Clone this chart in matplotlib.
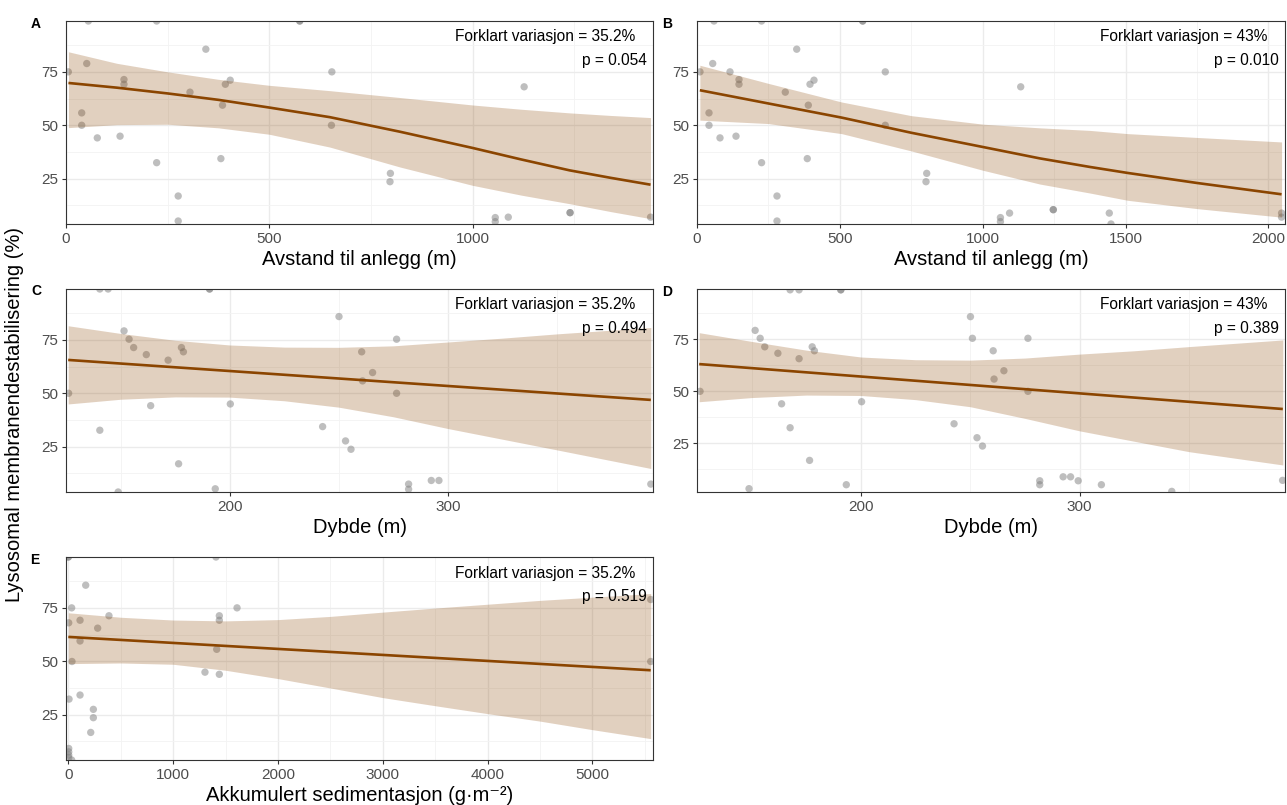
import matplotlib.pyplot as plt

plt.rcParams['font.family'] = ['Liberation Sans', 'DejaVu Sans']

# --- A: distance to facility (subset) ---
a_dist = [55, 223, 575, 575, 5.7, 51, 344, 142.6, 142.6, 305, 392, 404, 385, 654,
          38.6, 38.6, 653, 77, 133, 223, 381, 276, 276, 798, 797, 1127, 1056, 1056,
          1088, 1240, 1240, 1438]
a_lms = [98.8, 98.8, 98.8, 98.8, 75, 78.9, 85.6, 71.4, 69.2, 65.5, 69.2, 71.1, 59.4, 75,
         55.8, 50, 50, 44.1, 44.9, 32.5, 34.4, 16.9, 5.2, 27.5, 23.6, 68, 6.8, 4.9,
         7, 9.1, 9.1, 7]
a_fit_x = [6, 125, 250, 375, 500, 649, 821, 1000, 1120, 1239, 1340, 1438]
a_fit = [69.8, 67.6, 64.9, 61.9, 58.3, 53.8, 47.0, 39.4, 34.0, 28.9, 25.4, 22.2]
a_hi = [84.4, 79.0, 75.0, 71.5, 68.7, 66.2, 63.0, 59.5, 57.5, 55.8, 54.6, 53.6]
a_lo = [48.9, 50.3, 50.5, 48.8, 45.8, 39.8, 30.5, 21.9, 17.3, 13.3, 9.6, 6.3]

# --- B: distance to facility (all stations) ---
b_dist = [59.5, 226, 580, 580, 10.5, 55, 115.5, 147, 147, 349, 309, 395.5, 409.5, 389.6,
          42, 42, 659, 659, 80.5, 136.5, 226, 386, 280, 280, 804, 801.5, 1133, 1062,
          1062, 1094, 1247, 1247, 1443, 1449, 2046, 2046]
b_lms = [98.8, 98.8, 98.8, 98.8, 75, 78.9, 75, 71.4, 69.2, 85.6, 65.5, 69.2, 71.1, 59.4,
         55.8, 50, 75, 50, 44.1, 44.9, 32.5, 34.4, 16.9, 5.2, 27.5, 23.6, 68, 6.8,
         4.9, 8.9, 10.5, 10.5, 8.9, 3.8, 8.9, 7]
b_fit_x = [10, 250, 506, 750, 1002, 1200, 1375, 1507, 1750, 2046]
b_fit = [66.4, 60.2, 53.6, 46.5, 39.8, 34.5, 30.5, 27.7, 23.0, 17.7]
b_hi = [78.1, 69.6, 60.9, 54.5, 50.5, 48.8, 47.6, 46.1, 44.3, 42.2]
b_lo = [52.4, 50.8, 46.1, 38.0, 28.9, 22.5, 18.3, 14.9, 11.0, 7.0]

# --- C: depth ---
c_depth = [140.5, 144.3, 190.8, 190.8, 126.2, 151.6, 153.9, 156, 161.8, 171.8, 177.9,
           178.8, 163.8, 200.3, 140.5, 176.6, 193.4, 148.9, 250.1, 242.6, 253.1, 255.6,
           260.5, 265.5, 260.9, 276.5, 276.5, 282, 282, 292.4, 295.9, 393]
c_lms = [98.8, 98.8, 98.8, 98.8, 50, 79.2, 75.3, 71.4, 68.1, 65.5, 71.4,
         69.4, 44.2, 45, 32.7, 17, 5.3, 3.8, 85.9, 34.4, 27.7, 23.8,
         69.4, 59.7, 55.8, 75.3, 50, 7.5, 5.1, 9.2, 9.2, 7.5]
c_fit_x = [126, 393]
c_fit = [65.6, 46.9]
c_band_x = [126, 150, 175, 200, 225, 250, 275, 300, 325, 350, 393]
c_hi = [81.6, 78.0, 74.8, 72.6, 71.6, 71.5, 72.2, 74.0, 75.8, 77.8, 80.8]
c_lo = [45.0, 47.2, 48.3, 48.2, 46.5, 43.5, 39.0, 33.5, 28.5, 23.5, 14.8]

# --- D: depth (all stations) ---
d_depth = [167.6, 171.7, 190.8, 190.8, 126.4, 151.6, 153.9, 156, 162, 171.7, 177.7,
           178.7, 163.7, 200.3, 167.6, 176.5, 193.3, 148.8, 250.1, 251, 242.6, 253.1,
           255.6, 260.5, 265.4, 260.9, 276.4, 276.4, 281.8, 281.8, 292.5, 295.9,
           299.4, 310, 342.2, 392.9]
d_lms = [98.8, 98.8, 98.8, 98.8, 50, 79.3, 75.5, 71.4, 68.3, 65.7, 71.4,
         69.5, 44, 45, 32.5, 16.8, 5.1, 3.2, 85.9, 75.5, 34.4, 27.7,
         23.7, 69.5, 59.9, 55.9, 75.5, 50, 7, 5.1, 8.9, 8.9,
         7, 5.1, 1.9, 7.2]
d_fit_x = [126, 393]
d_fit = [63.1, 41.5]
d_band_x = [126, 150, 175, 200, 225, 250, 275, 300, 325, 350, 393]
d_hi = [78.2, 74.0, 69.8, 66.5, 65.2, 65.0, 66.0, 67.9, 69.5, 71.5, 74.7]
d_lo = [45.0, 47.0, 48.2, 48.0, 46.0, 42.6, 37.0, 31.0, 26.0, 21.0, 14.6]

# --- E: accumulated sedimentation ---
e_sed = [0, 0, 1409, 166, 32, 3.8, 112, 388, 280, 112, 35, 1441, 1441, 1610, 1416,
         1304, 1441, 7, 112, 239, 239, 214, 4, 4, 4, 4, 32, 5557, 5557]
e_lms = [98.8, 98.8, 98.8, 85.6, 75, 68, 69.2, 71.3, 65.5, 59.5, 49.9, 71.3, 69.2, 75, 55.6,
         44.9, 43.9, 32.3, 34.2, 27.5, 23.6, 16.7, 9.2, 7.6, 6.1, 4.9, 3.8, 78.9, 49.9]
e_fit_x = [0, 5557]
e_fit = [61.4, 45.8]
e_band_x = [0, 500, 1000, 1500, 2000, 2500, 3000, 3500, 4000, 4500, 5000, 5557]
e_hi = [72.7, 70.6, 69.3, 68.9, 69.5, 71.0, 73.0, 74.9, 76.7, 78.5, 80.0, 81.7]
e_lo = [48.9, 49.2, 48.6, 45.8, 41.9, 37.5, 33.0, 29.2, 25.5, 22.0, 18.0, 13.8]

fit_col = '#8B4500'
W, H = 1287, 805

fig = plt.figure(figsize=(W / 100, H / 100), dpi=100)


def px_rect(left, top, right, bottom):
    return [left / W, 1 - bottom / H, (right - left) / W, (bottom - top) / H]


def panel(rect, x, y, fx, fy, bx, lo, hi, xlim, ylim, xticks, xminor,
          xlabel, r2, p, tag, tag_xy):
    ax = fig.add_axes(rect)
    ax.scatter(x, y, s=28, color='#7F7F7F', alpha=0.5, edgecolors='none', zorder=2)
    ax.fill_between(bx, lo, hi, color=fit_col, alpha=0.25, lw=0, zorder=3)
    ax.plot(fx, fy, color=fit_col, lw=1.9, zorder=4, solid_capstyle='butt')

    ax.set_xlim(*xlim)
    ax.set_ylim(*ylim)
    ax.set_xticks(xticks)
    ax.set_xticks(xminor, minor=True)
    ax.set_yticks([25, 50, 75])
    ax.set_yticks([12.5, 37.5, 62.5, 87.5], minor=True)
    ax.grid(which='major', color='#EBEBEB', lw=1.0)
    ax.grid(which='minor', color='#F3F3F3', lw=0.6)
    ax.set_axisbelow(True)
    ax.tick_params(which='major', direction='out', length=2.6, width=0.8,
                   color='#333333', labelcolor='#4D4D4D', labelsize=11, pad=3)
    ax.tick_params(which='minor', length=0)
    for s in ax.spines.values():
        s.set_color('#333333')
        s.set_linewidth(0.8)
    ax.set_xlabel(xlabel, fontsize=14.5, labelpad=3)

    ax.annotate(f'Forklart variasjon = {r2}', xy=(1, 1), xycoords='axes fraction',
                xytext=(-18, -16), textcoords='offset pixels',
                ha='right', va='center', fontsize=11.2)
    ax.annotate(f'p = {p}', xy=(1, 1), xycoords='axes fraction',
                xytext=(-6, -39), textcoords='offset pixels',
                ha='right', va='center', fontsize=11.2)
    fig.text(tag_xy[0] / W, 1 - tag_xy[1] / H, tag, fontsize=10, fontweight='bold',
             ha='center', va='center')
    return ax


panel(px_rect(66, 21, 653, 224), a_dist, a_lms, a_fit_x, a_fit, a_fit_x, a_lo, a_hi,
      (0, 1444), (3.8, 98.8), [0, 500, 1000], [250, 750, 1250],
      'Avstand til anlegg (m)', '35.2%', '0.054', 'A', (36, 24))

panel(px_rect(697, 21, 1285, 224), b_dist, b_lms, b_fit_x, b_fit, b_fit_x, b_lo, b_hi,
      (0, 2058), (3.8, 98.8), [0, 500, 1000, 1500, 2000], [250, 750, 1250, 1750],
      'Avstand til anlegg (m)', '43%', '0.010', 'B', (667, 24))

panel(px_rect(66, 289, 653, 492), c_depth, c_lms, c_fit_x, c_fit, c_band_x, c_lo, c_hi,
      (125, 394), (3.8, 98.8), [200, 300], [150, 250, 350],
      'Dybde (m)', '35.2%', '0.494', 'C', (36, 291))

panel(px_rect(697, 289, 1285, 492), d_depth, d_lms, d_fit_x, d_fit, d_band_x, d_lo, d_hi,
      (125, 394), (1.6, 99.2), [200, 300], [150, 250, 350],
      'Dybde (m)', '43%', '0.389', 'D', (667, 292))

panel(px_rect(66, 557, 653, 760), e_sed, e_lms, e_fit_x, e_fit, e_band_x, e_lo, e_hi,
      (-22, 5579), (3.8, 98.8), [0, 1000, 2000, 3000, 4000, 5000],
      [500, 1500, 2500, 3500, 4500, 5500],
      'Akkumulert sedimentasjon (g·m⁻²)', '35.2%', '0.519', 'E', (35, 560))

fig.text(15 / W, 1 - 414 / H, 'Lysosomal membranendestabilisering (%)', rotation=90,
         ha='center', va='center', fontsize=14.5)

fig.savefig('out.png', dpi=100)
